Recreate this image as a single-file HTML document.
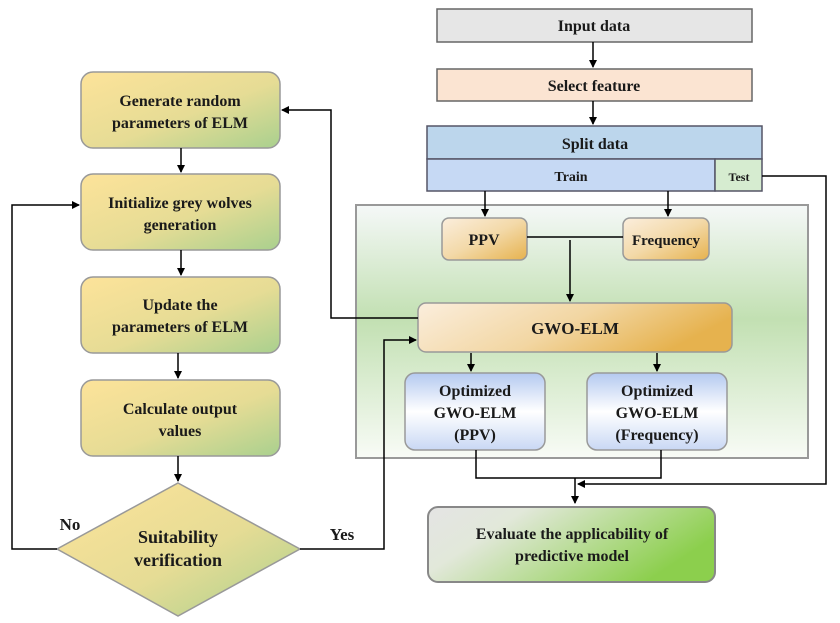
<!DOCTYPE html>
<html><head><meta charset="utf-8"><style>
html,body{margin:0;padding:0;background:#fff;}
svg{display:block;}
text{font-family:"Liberation Serif",serif;font-weight:bold;fill:#1a1a1a;text-anchor:middle;}
</style></head><body>
<svg width="840" height="623" viewBox="0 0 840 623" xmlns="http://www.w3.org/2000/svg">
<defs>
<linearGradient id="yg" x1="0" y1="0" x2="1" y2="1"><stop offset="0" stop-color="#fde39a"/><stop offset="0.55" stop-color="#e6dc95"/><stop offset="1" stop-color="#a9d08e"/></linearGradient>
<linearGradient id="og" x1="0" y1="0" x2="1" y2="1"><stop offset="0" stop-color="#fbeedd"/><stop offset="0.5" stop-color="#f3d9a8"/><stop offset="1" stop-color="#e6b24e"/></linearGradient>
<linearGradient id="og2" x1="0" y1="0" x2="1" y2="0.3"><stop offset="0" stop-color="#fbeedd"/><stop offset="0.55" stop-color="#f2d6a2"/><stop offset="1" stop-color="#e6b24e"/></linearGradient>
<linearGradient id="bg" x1="0" y1="0" x2="0" y2="1"><stop offset="0" stop-color="#b4c9f0"/><stop offset="0.5" stop-color="#ffffff"/><stop offset="1" stop-color="#c9d8f4"/></linearGradient>
<linearGradient id="gc" x1="0" y1="0" x2="0" y2="1"><stop offset="0" stop-color="#f5f8f8"/><stop offset="0.45" stop-color="#c2e0b2"/><stop offset="1" stop-color="#f8fbf6"/></linearGradient>
<linearGradient id="ev" x1="0" y1="0" x2="1" y2="0.4"><stop offset="0" stop-color="#e4e4e4"/><stop offset="0.3" stop-color="#e2e8da"/><stop offset="1" stop-color="#8ccf4d"/></linearGradient>
<marker id="a" markerWidth="8" markerHeight="8" refX="7" refY="4" orient="auto" markerUnits="userSpaceOnUse"><path d="M0,0 L8,4 L0,8 z" fill="#000"/></marker>
</defs>

<!-- right top -->
<rect x="437" y="9" width="315" height="33" fill="#e6e6e6" stroke="#666" stroke-width="1.5"/>
<text x="594" y="31" font-size="16">Input data</text>
<line x1="593" y1="42" x2="593" y2="67" stroke="#000" stroke-width="1.5" marker-end="url(#a)"/>
<rect x="437" y="69" width="315" height="32" fill="#fbe4d2" stroke="#666" stroke-width="1.5"/>
<text x="594" y="91" font-size="16">Select feature</text>
<line x1="593" y1="101" x2="593" y2="124" stroke="#000" stroke-width="1.5" marker-end="url(#a)"/>
<rect x="427" y="126" width="335" height="33" fill="#bcd6ec" stroke="#556" stroke-width="1.5"/>
<text x="595" y="149" font-size="16">Split data</text>
<rect x="427" y="159" width="288" height="32" fill="#c6d9f4" stroke="#556" stroke-width="1.5"/>
<text x="571" y="181" font-size="14">Train</text>
<rect x="715" y="159" width="47" height="32" fill="#d6ecd0" stroke="#556" stroke-width="1.5"/>
<text x="739" y="181" font-size="12">Test</text>

<!-- green container -->
<rect x="356" y="205" width="452" height="253" fill="url(#gc)" stroke="#999" stroke-width="2"/>
<line x1="485" y1="191" x2="485" y2="216" stroke="#000" stroke-width="1.5" marker-end="url(#a)"/>
<line x1="668" y1="191" x2="668" y2="216" stroke="#000" stroke-width="1.5" marker-end="url(#a)"/>
<rect x="442" y="218" width="85" height="42" rx="7" fill="url(#og)" stroke="#999" stroke-width="1.5"/>
<text x="484" y="245" font-size="16">PPV</text>
<rect x="623" y="218" width="86" height="42" rx="7" fill="url(#og)" stroke="#999" stroke-width="1.5"/>
<text x="666" y="245" font-size="15">Frequency</text>
<line x1="527" y1="237" x2="623" y2="237" stroke="#000" stroke-width="1.5"/>
<line x1="570" y1="240" x2="570" y2="301" stroke="#000" stroke-width="1.5" marker-end="url(#a)"/>
<rect x="418" y="303" width="314" height="49" rx="8" fill="url(#og2)" stroke="#999" stroke-width="1.5"/>
<text x="575" y="334" font-size="17">GWO-ELM</text>
<line x1="471" y1="353" x2="471" y2="371" stroke="#000" stroke-width="1.5" marker-end="url(#a)"/>
<line x1="657" y1="353" x2="657" y2="371" stroke="#000" stroke-width="1.5" marker-end="url(#a)"/>
<rect x="405" y="373" width="140" height="77" rx="10" fill="url(#bg)" stroke="#999" stroke-width="1.5"/>
<text x="475" y="396" font-size="16">Optimized</text>
<text x="475" y="418" font-size="16">GWO-ELM</text>
<text x="475" y="440" font-size="16">(PPV)</text>
<rect x="587" y="373" width="140" height="77" rx="10" fill="url(#bg)" stroke="#999" stroke-width="1.5"/>
<text x="657" y="396" font-size="16">Optimized</text>
<text x="657" y="418" font-size="16">GWO-ELM</text>
<text x="657" y="440" font-size="16">(Frequency)</text>

<!-- bottom merge -->
<polyline points="476,450 476,478 661,478 661,450" fill="none" stroke="#000" stroke-width="1.5"/>
<line x1="575" y1="478" x2="575" y2="503" stroke="#000" stroke-width="1.5" marker-end="url(#a)"/>
<polyline points="762,176 826,176 826,484 578,484" fill="none" stroke="#000" stroke-width="1.5" marker-end="url(#a)"/>
<rect x="428" y="507" width="287" height="75" rx="10" fill="url(#ev)" stroke="#888" stroke-width="2"/>
<text x="572" y="539" font-size="16">Evaluate the applicability of</text>
<text x="572" y="561" font-size="16">predictive model</text>

<!-- left column -->
<rect x="81" y="72" width="199" height="76" rx="12" fill="url(#yg)" stroke="#999" stroke-width="1.5"/>
<text x="180" y="106" font-size="16">Generate random</text>
<text x="180" y="128" font-size="16">parameters of ELM</text>
<line x1="181" y1="148" x2="181" y2="172" stroke="#000" stroke-width="1.5" marker-end="url(#a)"/>
<rect x="81" y="174" width="199" height="76" rx="12" fill="url(#yg)" stroke="#999" stroke-width="1.5"/>
<text x="180" y="208" font-size="16">Initialize grey wolves</text>
<text x="180" y="230" font-size="16">generation</text>
<line x1="181" y1="250" x2="181" y2="275" stroke="#000" stroke-width="1.5" marker-end="url(#a)"/>
<rect x="81" y="277" width="199" height="76" rx="12" fill="url(#yg)" stroke="#999" stroke-width="1.5"/>
<text x="180" y="310" font-size="16">Update the</text>
<text x="180" y="332" font-size="16">parameters of ELM</text>
<line x1="178" y1="353" x2="178" y2="378" stroke="#000" stroke-width="1.5" marker-end="url(#a)"/>
<rect x="81" y="380" width="199" height="76" rx="12" fill="url(#yg)" stroke="#999" stroke-width="1.5"/>
<text x="180" y="414" font-size="16">Calculate output</text>
<text x="180" y="436" font-size="16">values</text>
<line x1="178" y1="456" x2="178" y2="481" stroke="#000" stroke-width="1.5" marker-end="url(#a)"/>
<polygon points="178,483 300,549 178,616 57,549" fill="url(#yg)" stroke="#999" stroke-width="1.5"/>
<text x="178" y="543" font-size="18">Suitability</text>
<text x="178" y="566" font-size="18">verification</text>
<text x="70" y="530" font-size="17">No</text>
<text x="342" y="540" font-size="17">Yes</text>

<!-- loops -->
<polyline points="57,549 12,549 12,205 79,205" fill="none" stroke="#000" stroke-width="1.5" marker-end="url(#a)"/>
<polyline points="300,549 384,549 384,340 416,340" fill="none" stroke="#000" stroke-width="1.5" marker-end="url(#a)"/>
<polyline points="418,318 331,318 331,110 282,110" fill="none" stroke="#000" stroke-width="1.5" marker-end="url(#a)"/>
</svg>
</body></html>
